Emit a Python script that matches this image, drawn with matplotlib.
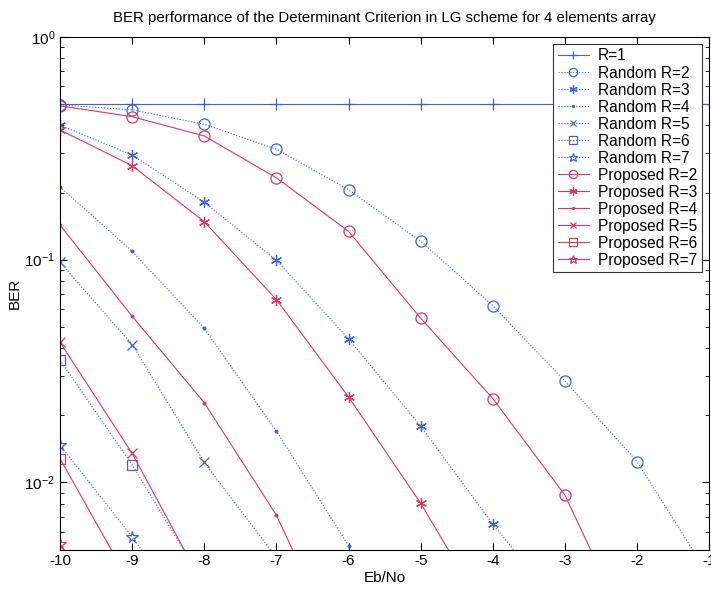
import matplotlib
matplotlib.use("Agg")
import matplotlib.pyplot as plt
from matplotlib.ticker import LogLocator, NullFormatter, FixedLocator

plt.rcParams['font.family'] = ['Liberation Sans', 'DejaVu Sans']

# Eb/No 轴
ebno = [-10, -9, -8, -7, -6, -5, -4, -3, -2, -1]

# R=1
ber_r1 = [0.5, 0.5, 0.5, 0.5, 0.5, 0.5, 0.5, 0.5, 0.5, 0.5]

# Random (dotted blue)
rand_r2 = [0.495, 0.47, 0.405, 0.313, 0.206, 0.121, 0.0622, 0.0285, 0.0124, 0.0038]
rand_r3 = [0.402, 0.295, 0.181, 0.0993, 0.0441, 0.0179, 0.0065, 0.0026]
rand_r4 = [0.212, 0.109, 0.0491, 0.017, 0.0052, 0.0015]
rand_r5 = [0.0973, 0.0416, 0.0123, 0.0046]
rand_r6 = [0.0354, 0.012, 0.0035]
rand_r7 = [0.0147, 0.0057, 0.002]

# Proposed (solid red)
prop_r2 = [0.49, 0.438, 0.359, 0.233, 0.134, 0.0546, 0.0238, 0.00877, 0.0018]
prop_r3 = [0.382, 0.264, 0.148, 0.0662, 0.0242, 0.00807, 0.0023]
prop_r4 = [0.143, 0.0557, 0.0228, 0.00713, 0.00145]
prop_r5 = [0.0426, 0.0135, 0.0034]
prop_r6 = [0.0128, 0.0034]
prop_r7 = [0.0053, 0.0018]

BLUE = "#4264c8"
RED = "#d43c60"
ASTER = (6, 2, 0)  # MATLAB '*' 星号

fig = plt.figure(figsize=(7.11, 5.90), dpi=100)
ax = fig.add_axes([0.0844, 0.0686, 0.913, 0.869])

ms = 8
lw = 0.8


def line(y, color, ls, marker, label, fill="none", size=ms):
    ax.plot(ebno[:len(y)], y, color=color, linestyle=ls, linewidth=lw,
            marker=marker, markersize=size, markerfacecolor=fill,
            markeredgecolor=color, markeredgewidth=0.9, label=label)


line(ber_r1, BLUE, "-", "+", "R=1")
line(rand_r2, BLUE, ":", "o", "Random R=2")
line(rand_r3, BLUE, ":", ASTER, "Random R=3")
line(rand_r4, BLUE, ":", ".", "Random R=4", fill=BLUE, size=4)
line(rand_r5, BLUE, ":", "x", "Random R=5", size=6.5)
line(rand_r6, BLUE, ":", "s", "Random R=6", size=7.5)
line(rand_r7, BLUE, ":", "*", "Random R=7", size=8.5)
line(prop_r2, RED, "-", "o", "Proposed R=2")
line(prop_r3, RED, "-", ASTER, "Proposed R=3")
line(prop_r4, RED, "-", ".", "Proposed R=4", fill=RED, size=4)
line(prop_r5, RED, "-", "x", "Proposed R=5", size=6.5)
line(prop_r6, RED, "-", "s", "Proposed R=6", size=7.5)
line(prop_r7, RED, "-", "*", "Proposed R=7", size=8.5)

ax.set_yscale("log")
ax.set_xlim(-10, -1)
ax.set_ylim(0.005, 1)
ax.xaxis.set_major_locator(FixedLocator(ebno))
ax.set_xticklabels([str(v) for v in ebno])
ax.yaxis.set_major_locator(LogLocator(base=10))
ax.yaxis.set_minor_locator(LogLocator(base=10, subs=range(2, 10)))
ax.yaxis.set_minor_formatter(NullFormatter())
ax.tick_params(which="both", direction="in", top=True, right=True,
               labelsize=11, colors="black")
ax.tick_params(which="major", length=5)
ax.tick_params(which="minor", length=3)
for s in ax.spines.values():
    s.set_linewidth(0.8)

ax.set_title("BER performance of the Determinant Criterion in LG scheme for 4 elements array",
             fontsize=10.8, pad=11)
ax.set_xlabel("Eb/No", fontsize=11, labelpad=2)
ax.set_ylabel("BER", fontsize=11, labelpad=2)

leg = ax.legend(loc="upper right", fontsize=11.2, fancybox=False, edgecolor="#333333",
                framealpha=1, borderaxespad=0.45, handlelength=2.0, handletextpad=0.6,
                labelspacing=0.13, borderpad=0.3, markerscale=0.75)
leg.get_frame().set_linewidth(0.8)

fig.savefig("out.png", dpi=100)
